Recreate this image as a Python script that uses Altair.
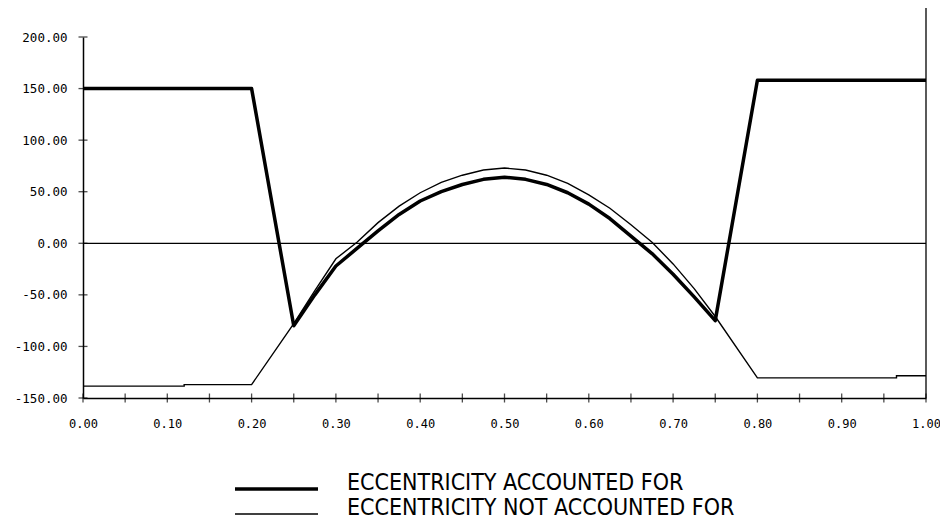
import altair as alt
import pandas as pd

# Series: eccentricity accounted for (thick line)
thick_x = [0.00, 0.20, 0.25, 0.275, 0.30, 0.325, 0.35, 0.375, 0.40, 0.425, 0.45, 0.475,
           0.50, 0.525, 0.55, 0.575, 0.60, 0.625, 0.65, 0.675, 0.70, 0.725, 0.75, 0.80, 1.00]
thick_y = [150, 150, -80, -50, -22, -5, 12, 28, 41, 50, 57, 62,
           64, 62, 57, 49, 38, 24, 7, -10, -30, -52, -75, 158, 158]

# Series: eccentricity not accounted for (thin line)
thin_x = [0.00, 0.12, 0.12, 0.20, 0.25, 0.275, 0.30, 0.325, 0.35, 0.375, 0.40, 0.425, 0.45, 0.475,
          0.50, 0.525, 0.55, 0.575, 0.60, 0.625, 0.65, 0.675, 0.70, 0.725, 0.75, 0.80, 0.965, 0.965, 1.00]
thin_y = [-138.5, -138.5, -137, -137, -78, -46, -15, 1, 20, 36, 49, 59, 66, 71,
          73, 71, 66, 58, 47, 34, 18, 1, -20, -44, -71, -130.5, -130.5, -128.5, -128.5]

series_names = ["ECCENTRICITY ACCOUNTED FOR", "ECCENTRICITY NOT ACCOUNTED FOR"]

x_ticks = [round(i * 0.05, 2) for i in range(21)]
x_labels = [round(i * 0.1, 1) for i in range(11)]
y_ticks = [-150, -100, -50, 0, 50, 100, 150, 200]

thick_df = pd.DataFrame({"x": thick_x, "y": thick_y, "i": range(len(thick_x))})
thin_df = pd.DataFrame({"x": thin_x, "y": thin_y, "i": range(len(thin_x))})

W, H = 843, 361
MONO = "DejaVu Sans Mono"
NARROW = "Liberation Sans Narrow, DejaVu Sans Condensed, sans-serif"

label_expr = "replace(format(datum.value, '.2f'), '\u2212', '-')"

xscale = alt.Scale(domain=[0, 1], nice=False, zero=False)
yscale = alt.Scale(domain=[-150, 200], nice=False, zero=False)

x_axis = alt.Axis(values=x_labels, labelExpr=label_expr, labelFont=MONO, labelFontSize=12,
                  labelColor="black", ticks=False, labelPadding=20, domainColor="black",
                  domainWidth=1.5, grid=False, title=None, labelFlush=False)
y_axis = alt.Axis(values=y_ticks, labelExpr=label_expr, labelFont=MONO, labelFontSize=12.5,
                  labelColor="black", ticks=False, labelPadding=16, domainColor="black",
                  domainWidth=1.5, grid=False, title=None)

thick_line = alt.Chart(thick_df).mark_line(color="black", strokeWidth=3.5, strokeJoin="round").encode(
    x=alt.X("x:Q", scale=xscale, axis=x_axis),
    y=alt.Y("y:Q", scale=yscale, axis=y_axis),
    order="i:Q",
)
thin_line = alt.Chart(thin_df).mark_line(color="black", strokeWidth=1.4).encode(
    x=alt.X("x:Q", scale=xscale),
    y=alt.Y("y:Q", scale=yscale),
    order="i:Q",
)

zero_df = pd.DataFrame({"x": [0.0], "x2": [1.0], "y": [0.0]})
zero_line = alt.Chart(zero_df).mark_rule(color="black", strokeWidth=1.3).encode(
    x=alt.X("x:Q", scale=xscale), x2="x2:Q", y=alt.Y("y:Q", scale=yscale)
)

right_df = pd.DataFrame({"x": [1.0]})
right_line = alt.Chart(right_df).mark_rule(color="black", strokeWidth=1.3).encode(
    x=alt.X("x:Q", scale=xscale), y=alt.value(-29), y2=alt.value(H)
)

xt_df = pd.DataFrame({"x": x_ticks, "y": [-150] * len(x_ticks)})
xt = alt.Chart(xt_df).mark_tick(orient="vertical", size=9, thickness=1.3, color="black").encode(
    x=alt.X("x:Q", scale=xscale), y=alt.Y("y:Q", scale=yscale)
)
yt_df = pd.DataFrame({"x": [0.0] * len(y_ticks), "y": y_ticks})
yt = alt.Chart(yt_df).mark_tick(orient="horizontal", size=9, thickness=1.3, color="black").encode(
    x=alt.X("x:Q", scale=xscale), y=alt.Y("y:Q", scale=yscale)
)

one = pd.DataFrame({"a": [0]})
leg1_line = alt.Chart(one).mark_rule(color="black", strokeWidth=3.5).encode(
    x=alt.value(152), x2=alt.value(235), y=alt.value(452)
)
leg2_line = alt.Chart(one).mark_rule(color="black", strokeWidth=1.4).encode(
    x=alt.value(152), x2=alt.value(235), y=alt.value(477)
)
leg1_text = alt.Chart(one).mark_text(text=series_names[0], font=NARROW, fontSize=23, align="left",
                                     baseline="middle", color="black").encode(
    x=alt.value(264), y=alt.value(446)
)
leg2_text = alt.Chart(one).mark_text(text=series_names[1], font=NARROW, fontSize=23, align="left",
                                     baseline="middle", color="black").encode(
    x=alt.value(264), y=alt.value(471)
)

chart = alt.layer(
    zero_line, right_line, thin_line, thick_line, xt, yt,
    leg1_line, leg2_line, leg1_text, leg2_text
).properties(
    width=W, height=H,
    autosize=alt.AutoSizeParams(type="none"),
    padding={"left": 75, "top": 29, "right": 14, "bottom": 122},
    background="white",
).configure_view(strokeWidth=0)

chart.save("out.html", embed_options={"renderer": "svg", "actions": False})
